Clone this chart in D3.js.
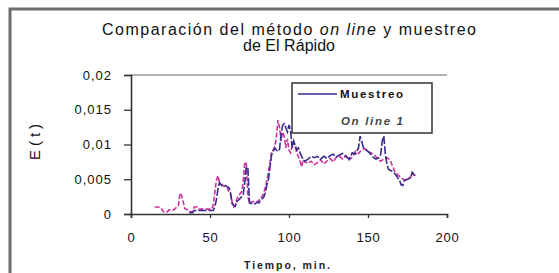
<!DOCTYPE html>
<html><head><meta charset="utf-8">
<script src="https://cdn.jsdelivr.net/npm/d3@7"></script>
<style>body{margin:0;background:#fff}svg{display:block}text{font-family:"Liberation Sans",Arial,sans-serif}</style>
</head><body><svg id="c" width="559" height="273"></svg>
<script>
const xTicks = [0, 50, 100, 150, 200];
const yTicks = [0, 0.005, 0.01, 0.015, 0.02];
const yTickLabels = ["0", "0,005", "0,01", "0,015", "0,02"];
const seriesNames = ["Muestreo", "On line 1"];
const muestreoT = [37,39,40,44,48,52,53,54,55,56,57,58,60,61,62,63,64,65,66,67,68,70,71,72,73,74,75,76,78,80,81,82,84,85,86,87,88,89,90,91,92,93,94,95,96,97,98,99,100,101,102,103,104,105,106,107,108,109,110,112,114,116,118,120,122,124,126,128,130,132,134,136,138,140,142,144,145,146,147,149,151,153,155,157,158,159,160,161,162,163,165,167,168,170,171,172,173,175,177,178,179,180];
const muestreoE = [0.0002,0.0002,0.0005,0.0005,0.0005,0.0005,0.001,0.002,0.0035,0.0045,0.0042,0.004,0.0041,0.0039,0.0038,0.003,0.0015,0.0012,0.0011,0.0018,0.002,0.0025,0.0028,0.0045,0.0068,0.0065,0.0016,0.0015,0.0014,0.0017,0.0016,0.002,0.0024,0.003,0.0042,0.005,0.0068,0.0085,0.009,0.0095,0.0092,0.009,0.0093,0.0115,0.0128,0.013,0.0124,0.0118,0.0128,0.012,0.0095,0.0105,0.0098,0.0092,0.0095,0.0088,0.0083,0.0078,0.0076,0.0079,0.0083,0.0081,0.0083,0.0079,0.0083,0.008,0.0084,0.0086,0.0082,0.0085,0.0087,0.0083,0.0079,0.0088,0.0086,0.0095,0.0112,0.0105,0.0096,0.0092,0.0088,0.0082,0.0079,0.0081,0.0085,0.0105,0.0112,0.0085,0.0072,0.0064,0.0062,0.0058,0.0055,0.0048,0.0042,0.0041,0.0048,0.005,0.0052,0.006,0.0057,0.0054];
const onlineT = [15,17,19,20,21,23,24,27,29,30,31,32,33,34,36,37,39,40,42,43,47,51,52,53,54,55,56,57,59,61,62,63,64,65,66,67,68,70,71,72,73,74,75,77,79,81,83,84,85,86,87,88,89,90,91,92,93,94,95,96,97,98,99,100,101,102,103,104,105,106,107,108,109,110,112,114,116,118,120,122,124,126,128,130,132,134,136,138,140,142,144,146,148,150,152,154,156,158,160,162,164,165,167,169,171,173,175,177,178,180];
const onlineE = [0.001,0.001,0.0009,0.0005,0.0003,0.0003,0.0006,0.0006,0.001,0.0012,0.003,0.0027,0.0018,0.0008,0.0006,0.0003,0.0003,0.001,0.001,0.0007,0.0007,0.0007,0.0012,0.003,0.0048,0.0055,0.0046,0.0043,0.004,0.0038,0.0031,0.0029,0.0018,0.001,0.0012,0.0022,0.0026,0.0032,0.0045,0.0075,0.0072,0.0025,0.0015,0.0018,0.0016,0.002,0.0025,0.003,0.0038,0.0048,0.006,0.0075,0.009,0.0092,0.0097,0.011,0.0135,0.0125,0.0105,0.0118,0.0112,0.0095,0.0108,0.0092,0.0088,0.0098,0.0104,0.0096,0.0088,0.0082,0.0076,0.0068,0.0078,0.0075,0.0073,0.0076,0.0071,0.0074,0.0078,0.0072,0.0076,0.008,0.0075,0.0082,0.0083,0.0079,0.0084,0.0078,0.0082,0.009,0.0087,0.0092,0.0094,0.009,0.0088,0.0085,0.008,0.0076,0.0079,0.0081,0.0078,0.0072,0.0061,0.0056,0.0052,0.0049,0.005,0.0053,0.0058,0.0055];

const svg = d3.select("#c");
// outer frame
svg.append("path").attr("d","M10,273 L10,9 L559,9").attr("fill","none").attr("stroke","#6e6e6e").attr("stroke-width",3);

const x = d3.scaleLinear().domain([0,200]).range([131,447]);
const y = d3.scaleLinear().domain([0,0.02]).range([214,75]);

// title
const t1 = svg.append("text").attr("x",289).attr("y",35).attr("text-anchor","middle").attr("font-size",16).attr("fill","#111");
t1.append("tspan").text("Comparación del método ");
t1.append("tspan").attr("font-style","italic").text("on line");
t1.append("tspan").text(" y muestreo");
t1.attr("textLength",374).attr("lengthAdjust","spacing");
svg.append("text").attr("x",289).attr("y",51).attr("text-anchor","middle").attr("font-size",16).attr("fill","#111")
  .attr("textLength",92).attr("lengthAdjust","spacing").text("de El Rápido");

// top gridline
svg.append("line").attr("x1",x(0)).attr("x2",x(200)).attr("y1",y(0.02)).attr("y2",y(0.02)).attr("stroke","#999").attr("stroke-width",1.5);

// axes
const yAxis = d3.axisLeft(y).tickValues(yTicks).tickSize(7).tickFormat((d,i)=>yTickLabels[i]);
const gy = svg.append("g").attr("transform",`translate(${x(0)},0)`).call(yAxis);
gy.select(".domain").attr("stroke","#333").attr("stroke-width",1.6);
gy.selectAll(".tick line").attr("stroke","#333").attr("stroke-width",1.3);
gy.selectAll(".tick text").attr("x",-19).attr("font-size",13).attr("letter-spacing",1).attr("fill","#111").attr("font-family",'"Liberation Sans",Arial,sans-serif');

const xAxis = d3.axisBottom(x).tickValues(xTicks).tickSize(4).tickFormat(d3.format("d"));
const gx = svg.append("g").attr("transform",`translate(0,${y(0)})`).call(xAxis);
gx.select(".domain").attr("stroke","#333").attr("stroke-width",1.6);
gx.selectAll(".tick line").attr("stroke","#333").attr("stroke-width",1.3);
gx.selectAll(".tick text").attr("y",19).attr("font-size",13).attr("letter-spacing",0.8).attr("fill","#111").attr("font-family",'"Liberation Sans",Arial,sans-serif');

// axis labels
svg.append("text").attr("transform","translate(40,142) rotate(-90)").attr("text-anchor","middle").attr("font-size",15)
  .attr("textLength",36).attr("lengthAdjust","spacing").attr("fill","#111").text("E(t)");
svg.append("text").attr("x",287).attr("y",269).attr("text-anchor","middle").attr("font-size",10.5).attr("font-weight","bold")
  .attr("textLength",86).attr("lengthAdjust","spacing").attr("fill","#222").text("Tiempo, min.");

// series
const muestreo = muestreoT.map((t,i)=>({t,e:muestreoE[i]}));
const online = onlineT.map((t,i)=>({t,e:onlineE[i]}));
const line = d3.line().x(d=>x(d.t)).y(d=>y(d.e));
svg.append("path").datum(online).attr("d",line).attr("fill","none").attr("stroke","#cc3399").attr("stroke-width",1.6).attr("stroke-dasharray","5,2");
svg.append("path").datum(muestreo).attr("d",line).attr("fill","none").attr("stroke","#3b2a8f").attr("stroke-width",1.6).attr("stroke-dasharray","8,2");

// legend
const lg = svg.append("g");
lg.append("rect").attr("x",292).attr("y",83).attr("width",140).attr("height",50).attr("fill","#fff").attr("stroke","#333").attr("stroke-width",1.5);
lg.append("line").attr("x1",298).attr("x2",337).attr("y1",94).attr("y2",94).attr("stroke","#3b2a8f").attr("stroke-width",1.5);
lg.append("text").attr("x",340).attr("y",98).attr("font-size",11.5).attr("font-weight","bold").attr("textLength",63).attr("lengthAdjust","spacing").attr("fill","#111").text(seriesNames[0]);
lg.append("text").attr("x",341).attr("y",125).attr("font-size",11.5).attr("font-weight","bold").attr("font-style","italic").attr("textLength",62).attr("lengthAdjust","spacing").attr("fill","#444").text(seriesNames[1]);
</script></body></html>
